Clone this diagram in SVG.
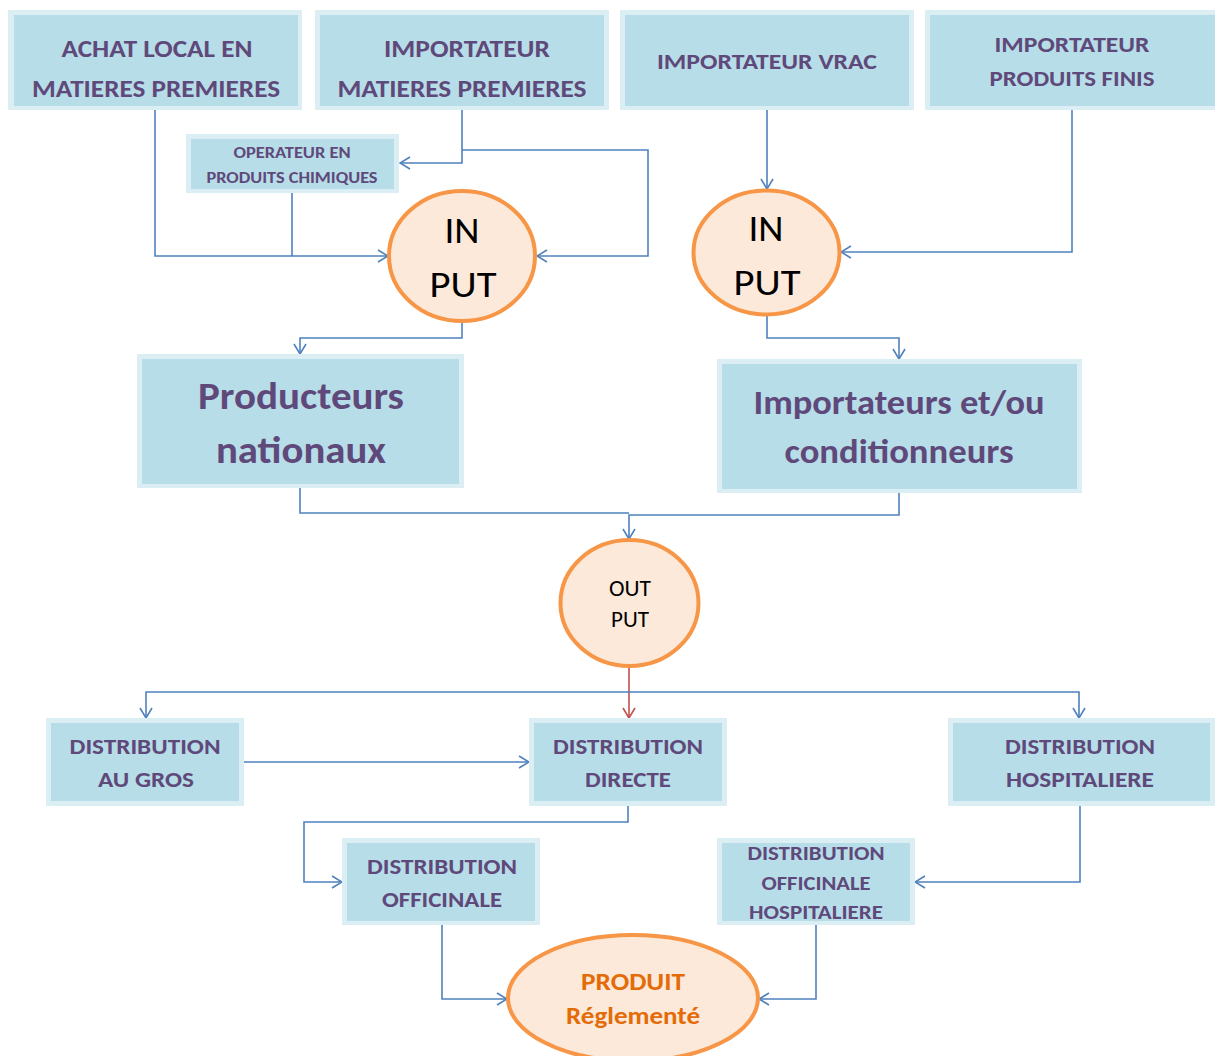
<svg xmlns="http://www.w3.org/2000/svg" width="1215" height="1056" viewBox="0 0 1215 1056">
  <style>
    .halo { fill: #dbeef4; }
    .box { fill: #b7dde8; }
    .lbl { font-family: Carlito, "Liberation Sans Narrow", "Liberation Sans", sans-serif; font-weight: bold; fill: #5f497a; text-anchor: middle; }
    .ell { fill: #fde9d9; stroke: #f79646; stroke-width: 4; }
    .etx { font-family: Carlito, "Liberation Sans Narrow", "Liberation Sans", sans-serif; fill: #000; text-anchor: middle; }
    .otx { font-family: Carlito, "Liberation Sans Narrow", "Liberation Sans", sans-serif; font-weight: bold; fill: #e36c09; text-anchor: middle; }
    .wire { fill: none; stroke: #4f81bd; stroke-width: 1.6; }
    .wire-red { fill: none; stroke: #c0504d; stroke-width: 1.6; }
  </style>
  <defs>
    <marker id="arr" viewBox="0 0 12 14" refX="11" refY="7" markerWidth="12" markerHeight="14" markerUnits="userSpaceOnUse" orient="auto">
      <path d="M1,1 L11,7 L1,13" fill="none" stroke="#4f81bd" stroke-width="1.6"/>
    </marker>
    <marker id="arr-red" viewBox="0 0 12 14" refX="11" refY="7" markerWidth="12" markerHeight="14" markerUnits="userSpaceOnUse" orient="auto">
      <path d="M1,1 L11,7 L1,13" fill="none" stroke="#c0504d" stroke-width="1.6"/>
    </marker>
  </defs>

  <rect width="1215" height="1056" fill="#fff"/>

  <!-- connectors -->
  <g id="connectors">
    <path class="wire" d="M155,110 V256 H388" marker-end="url(#arr)"/>
    <path class="wire" d="M292,193 V256"/>
    <path class="wire" d="M462,110 V163 H400" marker-end="url(#arr)"/>
    <path class="wire" d="M462,150 H648 V256 H537" marker-end="url(#arr)"/>
    <path class="wire" d="M767,110 V189" marker-end="url(#arr)"/>
    <path class="wire" d="M1072,110 V252 H841" marker-end="url(#arr)"/>
    <path class="wire" d="M462,322 V338 H300 V354" marker-end="url(#arr)"/>
    <path class="wire" d="M767,315 V338 H899 V359" marker-end="url(#arr)"/>
    <path class="wire" d="M300,488 V513 H629"/>
    <path class="wire" d="M899,493 V515 H629 V539" marker-end="url(#arr)"/>
    <path class="wire-red" d="M629,667 V718" marker-end="url(#arr-red)"/>
    <path class="wire" d="M629,692 H146 V718" marker-end="url(#arr)"/>
    <path class="wire" d="M629,692 H1079 V718" marker-end="url(#arr)"/>
    <path class="wire" d="M244,762 H529" marker-end="url(#arr)"/>
    <path class="wire" d="M628,806 V822 H304 V882 H342" marker-end="url(#arr)"/>
    <path class="wire" d="M1080,806 V882 H915" marker-end="url(#arr)"/>
    <path class="wire" d="M442,925 V999 H507" marker-end="url(#arr)"/>
    <path class="wire" d="M816,925 V999 H759" marker-end="url(#arr)"/>
  </g>

  <g id="achat-local">
    <rect class="halo" x="8" y="10" width="294" height="100"/>
    <rect class="box" x="14" y="15" width="284" height="91"/>
    <text class="lbl" x="157" y="57" font-size="25" textLength="191" lengthAdjust="spacingAndGlyphs">ACHAT LOCAL EN</text>
    <text class="lbl" x="156" y="97" font-size="25" textLength="248" lengthAdjust="spacingAndGlyphs">MATIERES PREMIERES</text>
  </g>

  <g id="importateur-mp">
    <rect class="halo" x="315" y="10" width="294" height="100"/>
    <rect class="box" x="320" y="15" width="284" height="91"/>
    <text class="lbl" x="467" y="57" font-size="25" textLength="166" lengthAdjust="spacingAndGlyphs">IMPORTATEUR</text>
    <text class="lbl" x="462" y="97" font-size="25" textLength="249" lengthAdjust="spacingAndGlyphs">MATIERES PREMIERES</text>
  </g>

  <g id="importateur-vrac">
    <rect class="halo" x="620" y="10" width="294" height="100"/>
    <rect class="box" x="625" y="15" width="284" height="91"/>
    <text class="lbl" x="767" y="69" font-size="23" textLength="220" lengthAdjust="spacingAndGlyphs">IMPORTATEUR VRAC</text>
  </g>

  <g id="importateur-pf">
    <rect class="halo" x="925" y="10" width="300" height="100"/>
    <rect class="box" x="930" y="15" width="290" height="91"/>
    <text class="lbl" x="1072" y="52" font-size="22" textLength="155" lengthAdjust="spacingAndGlyphs">IMPORTATEUR</text>
    <text class="lbl" x="1072" y="86" font-size="22" textLength="165" lengthAdjust="spacingAndGlyphs">PRODUITS FINIS</text>
  </g>

  <g id="operateur">
    <rect class="halo" x="186" y="134" width="213" height="59"/>
    <rect class="box" x="191" y="139" width="203" height="50"/>
    <text class="lbl" x="292" y="158" font-size="16" textLength="117" lengthAdjust="spacingAndGlyphs">OPERATEUR EN</text>
    <text class="lbl" x="292" y="183" font-size="16" textLength="171" lengthAdjust="spacingAndGlyphs">PRODUITS CHIMIQUES</text>
  </g>

  <g id="input-1">
    <ellipse class="ell" cx="462" cy="256" rx="73" ry="65"/>
    <text class="etx" x="462" y="243" font-size="36" textLength="35" lengthAdjust="spacingAndGlyphs">IN</text>
    <text class="etx" x="463" y="297" font-size="36" textLength="67" lengthAdjust="spacingAndGlyphs">PUT</text>
  </g>

  <g id="input-2">
    <ellipse class="ell" cx="766.5" cy="252.5" rx="73" ry="62"/>
    <text class="etx" x="766" y="241" font-size="36" textLength="35" lengthAdjust="spacingAndGlyphs">IN</text>
    <text class="etx" x="767" y="295" font-size="36" textLength="67" lengthAdjust="spacingAndGlyphs">PUT</text>
  </g>

  <g id="producteurs">
    <rect class="halo" x="137" y="354" width="327" height="134"/>
    <rect class="box" x="142" y="359" width="317" height="125"/>
    <text class="lbl" x="301" y="409" font-size="38" textLength="206" lengthAdjust="spacingAndGlyphs">Producteurs</text>
    <text class="lbl" x="301" y="463" font-size="38" textLength="170" lengthAdjust="spacingAndGlyphs">nationaux</text>
  </g>

  <g id="importateurs-cond">
    <rect class="halo" x="717" y="359" width="365" height="134"/>
    <rect class="box" x="722" y="364" width="355" height="125"/>
    <text class="lbl" x="899" y="414" font-size="34" textLength="291" lengthAdjust="spacingAndGlyphs">Importateurs et/ou</text>
    <text class="lbl" x="899" y="463" font-size="34" textLength="229" lengthAdjust="spacingAndGlyphs">conditionneurs</text>
  </g>

  <g id="output">
    <ellipse class="ell" cx="629.5" cy="603" rx="69" ry="63"/>
    <text class="etx" x="630" y="596" font-size="22" textLength="42" lengthAdjust="spacingAndGlyphs">OUT</text>
    <text class="etx" x="630" y="627" font-size="22" textLength="38" lengthAdjust="spacingAndGlyphs">PUT</text>
  </g>

  <g id="dist-gros">
    <rect class="halo" x="46" y="718" width="198" height="88"/>
    <rect class="box" x="51" y="723" width="188" height="78"/>
    <text class="lbl" x="145" y="754" font-size="22" textLength="151" lengthAdjust="spacingAndGlyphs">DISTRIBUTION</text>
    <text class="lbl" x="146" y="787" font-size="22" textLength="96" lengthAdjust="spacingAndGlyphs">AU GROS</text>
  </g>

  <g id="dist-directe">
    <rect class="halo" x="529" y="718" width="198" height="88"/>
    <rect class="box" x="534" y="723" width="188" height="78"/>
    <text class="lbl" x="628" y="754" font-size="22" textLength="150" lengthAdjust="spacingAndGlyphs">DISTRIBUTION</text>
    <text class="lbl" x="628" y="787" font-size="22" textLength="86" lengthAdjust="spacingAndGlyphs">DIRECTE</text>
  </g>

  <g id="dist-hosp">
    <rect class="halo" x="948" y="718" width="267" height="88"/>
    <rect class="box" x="953" y="723" width="257" height="78"/>
    <text class="lbl" x="1080" y="754" font-size="22" textLength="150" lengthAdjust="spacingAndGlyphs">DISTRIBUTION</text>
    <text class="lbl" x="1080" y="787" font-size="22" textLength="148" lengthAdjust="spacingAndGlyphs">HOSPITALIERE</text>
  </g>

  <g id="dist-officinale">
    <rect class="halo" x="342" y="838" width="198" height="87"/>
    <rect class="box" x="347" y="843" width="188" height="78"/>
    <text class="lbl" x="442" y="874" font-size="22" textLength="150" lengthAdjust="spacingAndGlyphs">DISTRIBUTION</text>
    <text class="lbl" x="442" y="907" font-size="22" textLength="120" lengthAdjust="spacingAndGlyphs">OFFICINALE</text>
  </g>

  <g id="dist-off-hosp">
    <rect class="halo" x="717" y="838" width="198" height="87"/>
    <rect class="box" x="722" y="843" width="188" height="78"/>
    <text class="lbl" x="816" y="860" font-size="20" textLength="137" lengthAdjust="spacingAndGlyphs">DISTRIBUTION</text>
    <text class="lbl" x="816" y="890" font-size="20" textLength="109" lengthAdjust="spacingAndGlyphs">OFFICINALE</text>
    <text class="lbl" x="816" y="919" font-size="20" textLength="134" lengthAdjust="spacingAndGlyphs">HOSPITALIERE</text>
  </g>

  <g id="produit">
    <ellipse class="ell" cx="633" cy="998" rx="125" ry="63"/>
    <text class="otx" x="633" y="990" font-size="24" textLength="104" lengthAdjust="spacingAndGlyphs">PRODUIT</text>
    <text class="otx" x="633" y="1024" font-size="24" textLength="134" lengthAdjust="spacingAndGlyphs">Réglementé</text>
  </g>
</svg>
